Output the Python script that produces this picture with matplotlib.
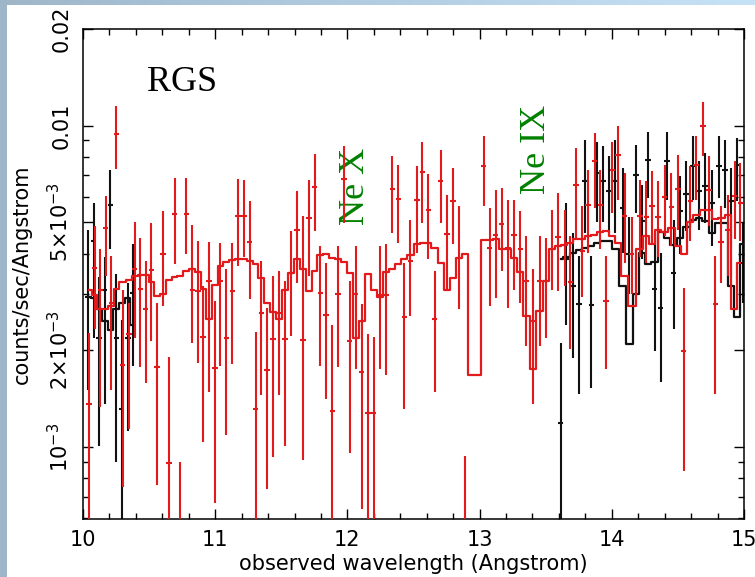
import numpy as np
import matplotlib
matplotlib.use("Agg")
import matplotlib.pyplot as plt
from matplotlib.patches import Rectangle
from matplotlib.colors import LinearSegmentedColormap
from matplotlib.ticker import FixedLocator, NullFormatter

nan = np.nan
BOT = 0.0003  # error bar reaching below the axis

# ---------------- red data set ----------------
red_x = [10.045, 10.088, 10.131, 10.171, 10.214, 10.252, 10.300, 10.348, 10.391, 10.434, 10.474, 10.517, 10.560, 10.605, 10.651, 10.693, 10.736, 10.782, 10.827,
         10.870, 10.908, 10.953, 10.998, 11.039, 11.084, 11.130, 11.172, 11.218, 11.261, 11.306, 11.349, 11.392, 11.437, 11.483, 11.528, 11.573, 11.619, 11.664,
         11.709, 11.752, 11.795, 11.840, 11.886, 11.929, 11.974, 12.017, 12.062, 12.108, 12.156, 12.199, 12.244, 12.294, 12.340, 12.385, 12.431, 12.476,
         12.526, 12.567, 12.612, 12.660, 12.705, 12.753, 12.799, 12.844, 12.887, 12.937, 12.983, 13.031, 13.076, 13.121, 13.167, 13.215, 13.260, 13.308,
         13.353, 13.404, 13.454, 13.499, 13.550, 13.593, 13.643, 13.686, 13.731, 13.777, 13.822, 13.870, 13.913, 13.958, 14.004, 14.047, 14.097, 14.150,
         14.215, 14.261, 14.306, 14.349, 14.400, 14.450, 14.500, 14.543, 14.594, 14.639, 14.690, 14.735, 14.783, 14.828, 14.879, 14.929, 14.972]
red_y = [0.00136, 0.00362, 0.00309, 0.00481, 0.00281, 0.00944, 0.00180, 0.00224, 0.00357, 0.00311, 0.00269, 0.00356, 0.00178, 0.00400, 0.00089, 0.00532, 0.0005, 0.00532, 0.00309,
         0.00307, 0.00220, 0.00328, 0.00176, 0.00328, 0.00219, 0.00306, 0.00523, 0.00523, 0.00436, 0.00131, 0.00261, 0.00174, 0.00217, 0.00261, 0.00217, 0.00348, 0.00475, 0.00216,
         0.00517, 0.00643, 0.00301, 0.00257, 0.00129, 0.00299, 0.00683, 0.00214, 0.00299, 0.00171, 0.00128, 0.00128, 0.00297, 0.00297, 0.00636, 0.00592, 0.00253, 0.00379,
         0.00589, 0.00716, 0.00546, 0.00251, 0.00671, 0.00459, 0.00582, 0.00388, 0.0005, nan, nan, 0.00747, 0.00415, 0.00456, 0.00496, 0.00415, 0.00456, 0.00413,
         0.00328, 0.00247, 0.00328, 0.00328, 0.00413, 0.00452, 0.00424, 0.00326, 0.00655, 0.00408, 0.00568, 0.00775, 0.00568, 0.00284, 0.00730, 0.00812, 0.00523, 0.00400,
         0.00523, 0.00521, 0.00561, 0.00521, 0.00600, 0.00558, 0.00637, 0.00199, 0.00582, 0.00756, 0.00996, 0.00633, 0.00278, 0.00435, 0.00475, 0.00603, 0.00575]
red_hi = [0.00226, 0.00486, 0.00412, 0.00606, 0.00393, 0.01154, 0.00309, 0.00281, 0.00501, 0.00448, 0.00379, 0.00498, 0.00281, 0.00541, 0.00190, 0.00688, 0.00090, 0.00688, 0.00492,
          0.00438, 0.00317, 0.00435, 0.00284, 0.00433, 0.00357, 0.00433, 0.00683, 0.00679, 0.00582, 0.00228, 0.00379, 0.00271, 0.00341, 0.00353, 0.00328, 0.00470, 0.00625, 0.00523,
          0.00679, 0.00818, 0.00422, 0.00374, 0.00239, 0.00422, 0.00862, 0.00328, 0.00422, 0.00278, 0.00225, 0.00220, 0.00422, 0.00427, 0.00803, 0.00752, 0.00374, 0.00510,
          0.00747, 0.00893, 0.00705, 0.00353, 0.00842, 0.00610, 0.00738, 0.00561, 0.00094, nan, nan, 0.00930, 0.00555, 0.00633, 0.00640, 0.00589, 0.00589, 0.00541,
          0.00453, 0.00357, 0.00453, 0.00448, 0.00548, 0.00618, 0.00548, 0.00453, 0.00852, 0.00561, 0.00730, 0.00949, 0.00730, 0.00393, 0.00893, 0.00996, 0.00713, 0.00520,
          0.00679, 0.00671, 0.00722, 0.00671, 0.00756, 0.00713, 0.00812, 0.00312, 0.00747, 0.00926, 0.01189, 0.00803, 0.00393, 0.00561, 0.00610, 0.00775, 0.00765]
red_lo = [BOT, 0.00233, 0.00133, 0.00341, 0.00150, 0.00734, 0.00075, 0.00114, 0.00219, 0.00177, 0.00158, 0.00214, 0.00076, 0.00275, BOT, 0.00370, BOT, 0.00398, 0.00211,
          0.00183, 0.00104, 0.00148, 0.00067, 0.00179, 0.00109, 0.00181, 0.00366, 0.00389, 0.00289, BOT, 0.00145, 0.00074, 0.00093, 0.00145, 0.00101, 0.00221, 0.00325, 0.00091,
          0.00341, 0.00470, 0.00179, 0.00141, BOT, 0.00177, 0.00498, 0.00096, 0.00175, 0.00064, BOT, BOT, 0.00175, 0.00167, 0.00464, 0.00431, 0.00131, 0.00256,
          0.00403, 0.00498, 0.00384, 0.00148, 0.00498, 0.00309, 0.00427, 0.00268, BOT, nan, nan, 0.00561, 0.00275, 0.00291, 0.00353, 0.00271, 0.00309, 0.00281,
          0.00206, 0.00136, 0.00206, 0.00219, 0.00309, 0.00306, 0.00316, 0.00202, 0.00443, 0.00294, 0.00403, 0.00555, 0.00413, 0.00175, 0.00535, 0.00589, 0.00374, 0.00300,
          0.00389, 0.00374, 0.00427, 0.00389, 0.00453, 0.00422, 0.00475, 0.00084, 0.00438, 0.00589, 0.00803, 0.00487, 0.00146, 0.00325, 0.00341, 0.00443, 0.00438]
red_model = [0.00309, 0.00298, 0.00269, 0.00269, 0.00275, 0.00310, 0.00326, 0.00332, 0.00341, 0.00342, 0.00342, 0.00326, 0.00295, 0.00300, 0.00332, 0.00339, 0.00341, 0.00353, 0.00358,
             0.00351, 0.00310, 0.00250, 0.00320, 0.00367, 0.00377, 0.00382, 0.00384, 0.00384, 0.00379, 0.00372, 0.00336, 0.00281, 0.00264, 0.00250, 0.00309, 0.00347, 0.00386, 0.00357,
             0.00306, 0.00353, 0.00395, 0.00400, 0.00388, 0.00384, 0.00376, 0.00347, 0.00219, 0.00247, 0.00346, 0.00309, 0.00293, 0.00350, 0.00358, 0.00370, 0.00384, 0.00396,
             0.00427, 0.00431, 0.00433, 0.00417, 0.00374, 0.00308, 0.00336, 0.00388, 0.00398, 0.00167, 0.00167, 0.00441, 0.00441, 0.00443, 0.00414, 0.00414, 0.00388, 0.00350,
             0.00256, 0.00175, 0.00265, 0.00328, 0.00414, 0.00422, 0.00424, 0.00433, 0.00443, 0.00445, 0.00453, 0.00458, 0.00467, 0.00470, 0.00453, 0.00433, 0.00341, 0.00275,
             0.00413, 0.00453, 0.00427, 0.00475, 0.00467, 0.00481, 0.00422, 0.00398, 0.00501, 0.00526, 0.00548, 0.00546, 0.00514, 0.00518, 0.00529, 0.00269, 0.00374]

# ---------------- black data set (two wavelength ranges) ----------------
black_x = [10.038, 10.081, 10.121, 10.164, 10.207, 10.252, 10.292, 10.340, 10.378,
           13.613, 13.656, 13.706, 13.752, 13.797, 13.845, 13.888, 13.933, 13.979, 14.024, 14.084, 14.130, 14.185,
           14.228, 14.273, 14.324, 14.369, 14.417, 14.468, 14.518, 14.563, 14.614, 14.659, 14.707, 14.758, 14.810, 14.858, 14.904, 14.950, 14.990]
black_y = [0.00294, 0.00438, 0.00219, 0.00309, 0.00565, 0.00219, 0.00131, 0.00219, 0.00302,
           0.00119, 0.00384, 0.00316, 0.00278, 0.00671, 0.00276, 0.00713, 0.00671, 0.00626, 0.00671, 0.00555, 0.00400, 0.00700,
           0.00504, 0.00780, 0.00310, 0.00271, 0.00775, 0.00349, 0.00541, 0.00614, 0.00751, 0.00626, 0.00649, 0.00575, 0.00751, 0.00727, 0.00582, 0.00756, 0.00374]
black_hi = [0.00475, 0.00575, 0.00337, 0.00389, 0.00730, 0.00345, 0.00249, 0.00325, 0.00427,
            0.00211, 0.00575, 0.00464, 0.00394, 0.00904, 0.00394, 0.00893, 0.00862, 0.00803, 0.00904, 0.00738, 0.00520, 0.00868,
            0.00655, 0.00953, 0.00464, 0.00403, 0.00953, 0.00510, 0.00696, 0.00775, 0.00926, 0.00775, 0.00820, 0.00730, 0.00926, 0.00904, 0.00738, 0.00915, 0.00498]
black_lo = [0.00150, 0.00219, 0.00101, 0.00136, 0.00413, 0.00090, BOT, 0.00112, 0.00179,
            BOT, 0.00239, 0.00189, 0.00146, 0.00464, 0.00153, 0.00503, 0.00503, 0.00464, 0.00464, 0.00403, 0.00300, 0.00535,
            0.00384, 0.00596, 0.00199, 0.00159, 0.00589, 0.00233, 0.00398, 0.00470, 0.00589, 0.00475, 0.00498, 0.00422, 0.00596, 0.00555, 0.00422, 0.00582, 0.00281]
black_model = [0.00294, 0.00291, 0.00269, 0.00247, 0.00232, 0.00269, 0.00281, 0.00291, 0.00240,
               0.00384, 0.00389, 0.00403, 0.00411, 0.00415, 0.00422, 0.00431, 0.00438, 0.00438, 0.00413, 0.00316, 0.00209, 0.00300,
               0.00403, 0.00372, 0.00376, 0.00467, 0.00448, 0.00424, 0.00448, 0.00484, 0.00510, 0.00518, 0.00504, 0.00464, 0.00498, 0.00498, 0.00316, 0.00253, 0.00427]

# ---------------- axes / labels ----------------
y_major = [0.001, 0.002, 0.005, 0.01, 0.02]
y_major_labels = [r'$10^{-3}$', r'$2{\times}10^{-3}$', r'$5{\times}10^{-3}$', '0.01', '0.02']
y_minor = [0.0006, 0.0007, 0.0008, 0.0009, 0.003, 0.004, 0.006, 0.007, 0.008, 0.009]
x_major = [10, 11, 12, 13, 14, 15]
x_major_labels = ['10', '11', '12', '13', '14', '15']

RED = '#e31a1c'
BLACK = '#111111'

W, H = 755, 577
fig = plt.figure(figsize=(W / 100, H / 100), dpi=100)
fig.patch.set_facecolor('white')

# slide-like border
fig.add_artist(Rectangle((0, 0), 7 / W, 1, transform=fig.transFigure,
                         facecolor='#9fb6c9', edgecolor='none', zorder=0))
axbg = fig.add_axes([0, 1 - 5 / H, 1, 5 / H])
grad = np.linspace(0, 1, 256).reshape(1, -1)
cm = LinearSegmentedColormap.from_list('bg', ['#9fb6c9', '#b3cde0', '#c6e2f5'])
axbg.imshow(grad, aspect='auto', cmap=cm)
axbg.axis('off')

ax = fig.add_axes([83 / W, 1 - 519 / H, (744 - 83) / W, (519 - 29) / H])
ax.set_yscale('log')
ax.set_xlim(10, 15)
ax.set_ylim(0.000597, 0.02)


def draw_set(x, y, lo, hi, model, color, z):
    x = np.array(x); y = np.array(y); lo = np.array(lo); hi = np.array(hi)
    model = np.array(model)
    ok = ~np.isnan(y)
    ax.errorbar(x[ok], y[ok], yerr=[y[ok] - lo[ok], hi[ok] - y[ok]], xerr=0.021,
                fmt='none', ecolor=color, elinewidth=1.5, capsize=0, zorder=z)
    # model histogram, split where the wavelength coverage has a gap
    breaks = np.where(np.diff(x) > 0.2)[0] + 1
    for xs, ms in zip(np.split(x, breaks), np.split(model, breaks)):
        ax.plot(xs, ms, drawstyle='steps-mid', color=color, lw=1.6, zorder=z + 1)


draw_set(black_x, black_y, black_lo, black_hi, black_model, BLACK, 2)
draw_set(red_x, red_y, red_lo, red_hi, red_model, RED, 4)

ax.yaxis.set_major_locator(FixedLocator(y_major))
ax.yaxis.set_minor_locator(FixedLocator(y_minor))
ax.yaxis.set_minor_formatter(NullFormatter())
ax.set_yticklabels(y_major_labels)
ax.set_xticks(x_major)
ax.set_xticklabels(x_major_labels)
ax.set_xticks(np.arange(10, 15.01, 0.2), minor=True)

ax.tick_params(which='both', direction='in', top=True, right=True, width=1.0, color='black')
ax.tick_params(which='major', length=7)
ax.tick_params(which='minor', length=4)
ax.tick_params(axis='x', which='major', labelsize=15, pad=8)
ax.tick_params(axis='y', which='major', labelsize=15, pad=8, labelrotation=90)
for lab in ax.get_yticklabels():
    lab.set_va('center')
for s in ax.spines.values():
    s.set_linewidth(1.1)

ax.set_xlabel('observed wavelength (Angstrom)', fontsize=15)
ax.set_ylabel('counts/sec/Angstrom', fontsize=15)
ax.xaxis.set_label_coords(0.5, -0.072)
ax.yaxis.set_label_coords(-0.078, 0.5)

serif = ['Liberation Serif', 'DejaVu Serif']
ax.text(10.749, 0.0136, 'RGS', fontsize=26, family=serif, ha='center', va='center', color='black')
ax.text(12.058, 0.00645, 'Ne X', fontsize=26, family=serif, ha='center', va='center',
        color='green', rotation=90)
ax.text(13.434, 0.00841, 'Ne IX', fontsize=26, family=serif, ha='center', va='center',
        color='green', rotation=90)

fig.savefig('out.png', dpi=100)
